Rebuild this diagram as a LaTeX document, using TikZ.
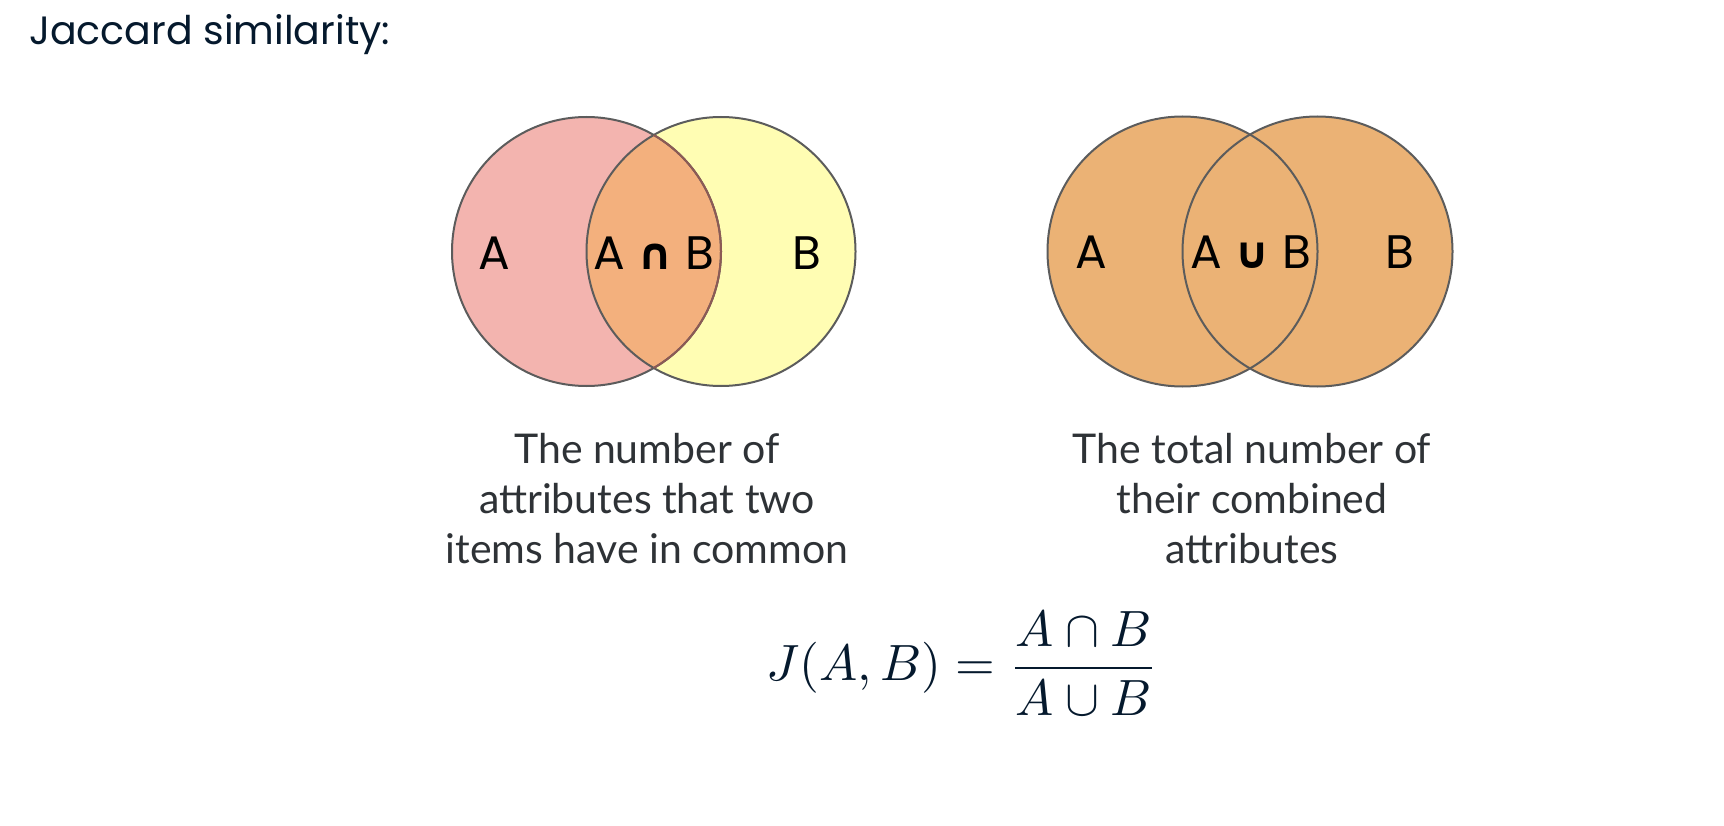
\documentclass[tikz,border=0pt]{standalone}
\usepackage{fontspec}
\newfontfamily\labelfont{Poppins}
\newfontfamily\capfont{Lato}
\newfontfamily\symfont{DejaVu Sans}
\definecolor{navy}{HTML}{05192D}
\definecolor{capgrey}{HTML}{2E3236}
\definecolor{edge}{HTML}{5C5C5C}
\definecolor{inneredge}{HTML}{8C5A55}
\definecolor{pinkA}{HTML}{F3B4AF}
\definecolor{yellowB}{HTML}{FFFDB3}
\definecolor{interAB}{HTML}{F3B07D}
\definecolor{unionAB}{HTML}{EBB275}
\tikzset{
  setline/.style={draw=edge,line width=2pt},
  setlabel/.style={anchor=base,inner sep=0pt,font=\labelfont\fontsize{47}{56}\selectfont,text=black},
  caption/.style={anchor=base,inner sep=0pt,align=center,font=\capfont\fontsize{41}{50}\selectfont,text=capgrey}
}
\newcommand{\opsym}[1]{{\symfont\bfseries\fontsize{44}{48}\selectfont #1}}
\begin{document}
\begin{tikzpicture}[x=1pt,y=-1pt]
\useasboundingbox(0,0)rectangle(1724,826);
\node[anchor=base west,inner sep=0pt,font=\labelfont\fontsize{39.5}{46}\selectfont,text=navy](title) at(29,45){Jaccard similarity:};
% intersection
\coordinate(iA) at(586.5,251.5);
\coordinate(iB) at(721,251.5);
\fill[pinkA](iA)circle(134.5);
\fill[yellowB](iB)circle(134.5);
\begin{scope}
\clip(iA)circle(134.5);
\fill[interAB](iB)circle(134.5);
\end{scope}
\draw[setline](iB)circle(134.5);
\draw[setline](iA)circle(134.5);
\begin{scope}
\clip(iB)circle(134.5);
\draw[draw=inneredge,line width=2pt](iA)circle(134.5);
\end{scope}
\node[setlabel](iAlabel) at(494,270){A};
\node[setlabel](iABlabel) at(654,270){A \opsym{∩} B};
\node[setlabel](iBlabel) at(807,270){B};
% union
\coordinate(uA) at(1182.5,251.5);
\coordinate(uB) at(1317.5,251.5);
\fill[unionAB](uA)circle(135);
\fill[unionAB](uB)circle(135);
\draw[setline](uA)circle(135);
\draw[setline](uB)circle(135);
\node[setlabel](uAlabel) at(1091,269){A};
\node[setlabel](uABlabel) at(1251,269){A \opsym{∪} B};
\node[setlabel](uBlabel) at(1400,269){B};
% captions
\node[caption](icap) at(647,563){The number of\\attributes that two\\items have in common};
\node[caption](ucap) at(1252,563){The total number of\\their combined\\attributes};
% formula
\node[anchor=base,inner sep=0pt,text=navy,font=\fontsize{10}{12}\selectfont,scale=5.1,transform shape](jac) at(962,680.5)
  {$\displaystyle J(A,B)=\frac{A\cap B}{A\cup B}$};
\end{tikzpicture}
\end{document}
